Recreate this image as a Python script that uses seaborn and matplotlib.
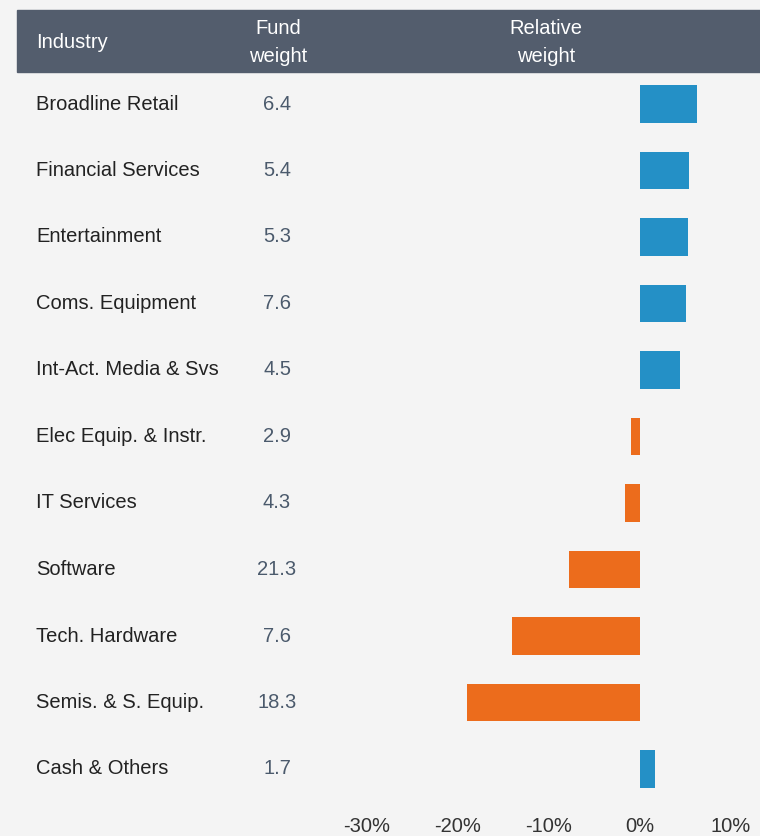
import pandas as pd
import matplotlib
matplotlib.use("Agg")
import matplotlib.pyplot as plt
import seaborn as sns

# data
industries = ["Broadline Retail", "Financial Services", "Entertainment", "Coms. Equipment",
              "Int-Act. Media & Svs", "Elec Equip. & Instr.", "IT Services", "Software",
              "Tech. Hardware", "Semis. & S. Equip.", "Cash & Others"]
fund_weight = ["6.4", "5.4", "5.3", "7.6", "4.5", "2.9", "4.3", "21.3", "7.6", "18.3", "1.7"]
relative_weight = [6.3, 5.4, 5.3, 5.1, 4.4, -1.0, -1.7, -7.8, -14.1, -19.0, 1.7]
tick_values = [-30, -20, -10, 0, 10]
tick_labels = ["-30%", "-20%", "-10%", "0%", "10%"]

BLUE = "#2490c6"
ORANGE = "#ec6c1c"
BG = "#f4f4f4"
HEADER = "#535d6d"

sns.set_theme(style="white")
plt.rcParams["font.family"] = ["Liberation Sans", "DejaVu Sans"]

df = pd.DataFrame({"industry": industries, "rel": relative_weight, "fund": fund_weight})
df["sign"] = ["pos" if v >= 0 else "neg" for v in df["rel"]]

W, H = 760, 836
fig = plt.figure(figsize=(W / 100, H / 100), dpi=100, facecolor=BG)
ax = fig.add_axes([0, 0, 1, 1])
ax.set_facecolor(BG)

sns.barplot(data=df, x="rel", y="industry", hue="sign", orient="h",
            palette={"pos": BLUE, "neg": ORANGE}, width=0.57, dodge=False,
            legend=False, ax=ax, saturation=1, linewidth=0)

# pixel mapping: 0% at x=640, 9.1 px per 1%; row 0 at y=104, 66.5 px per row
px_per = 9.1
ax.set_xlim(-640 / px_per, (W - 640) / px_per)
row = 66.5
ax.set_ylim((H - 104) / row, -104 / row)
ax.axis("off")

txt = dict(fontsize=14.5, va="center")
for i, r in df.iterrows():
    fig.text(36 / W, 1 - (104 + row * i) / H, r["industry"], color="#222222", ha="left", **txt)
    fig.text(277 / W, 1 - (104 + row * i) / H, r["fund"], color="#4b5a6c", ha="center", **txt)

for v, lab in zip(tick_values, tick_labels):
    fig.text((640 + v * px_per) / W, 1 - 826 / H, lab, color="#333333", ha="center", **txt)

# header band
fig.patches.append(plt.Rectangle((17 / W, 1 - 72 / H), 1 - 17 / W, 62 / H,
                                 transform=fig.transFigure, color=HEADER, zorder=0))
fig.text(36 / W, 1 - 42 / H, "Industry", color="white", ha="left", **txt)
fig.text(278 / W, 1 - 28 / H, "Fund", color="white", ha="center", **txt)
fig.text(278 / W, 1 - 56 / H, "weight", color="white", ha="center", **txt)
fig.text(546 / W, 1 - 28 / H, "Relative", color="white", ha="center", **txt)
fig.text(546 / W, 1 - 56 / H, "weight", color="white", ha="center", **txt)

fig.savefig("out.png", dpi=100, facecolor=BG)
